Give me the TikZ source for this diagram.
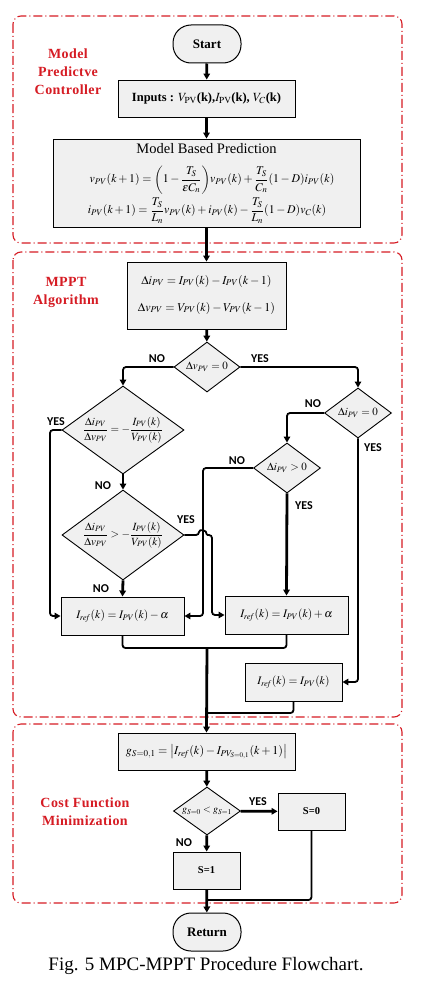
\documentclass[tikz,border=0pt]{standalone}
\usepackage{amsmath}
\usepackage{mathptmx}
\usepackage[no-math]{fontspec}
\setmainfont{Liberation Serif}
\newfontfamily\lblfont{Carlito}
\newfontfamily\redfont{Liberation Serif}[LetterSpace=3]
\usetikzlibrary{shapes.geometric,arrows.meta}
\definecolor{boxred}{RGB}{214,28,36}
\definecolor{boxfill}{RGB}{240,240,240}
\begin{document}
\begin{tikzpicture}[x=1pt,y=-1pt,
 proc/.style={draw,fill=boxfill,line width=0.9pt,inner sep=0pt},
 term/.style={draw,fill=boxfill,line width=1pt,rounded corners=18pt,minimum width=68pt,minimum height=38pt,inner sep=0pt,font=\fontsize{13}{15}\selectfont\bfseries},
 dec/.style={draw,fill=boxfill,diamond,line width=0.9pt,inner sep=0pt},
 region/.style={draw=boxred,line width=1.1pt,dash pattern=on 9pt off 3pt on 1pt off 3pt,rounded corners=8pt},
 regionlbl/.style={text=boxred,font=\redfont\fontsize{14}{18}\selectfont\bfseries,align=center},
 yn/.style={font=\lblfont\fontsize{12}{14}\selectfont\bfseries},
 conn/.style={line width=1.8pt,rounded corners=3pt},
 thk/.style={line width=2.8pt},
 arr/.style={-{Triangle[length=6pt,width=6.5pt]}},
 eq/.style={font=\fontsize{12}{14}\selectfont,inner sep=0pt},
]
\useasboundingbox (0,0) rectangle (428,998);
\fill[white] (0,0) rectangle (428,998);
% regions
\draw[region] (13,16) rectangle (402,243);
\draw[region] (13,252) rectangle (402,717);
\draw[region] (13,724) rectangle (402,903);
\node[regionlbl] (lmpc) at (68,72) {Model\\Predictve\\Controller};
\node[regionlbl] (lmppt) at (66,292) {MPPT\\Algorithm};
\node[regionlbl] (lcost) at (85,812) {Cost Function\\Minimization};
% nodes
\node[term] (start) at (207,44) {Start};
\node[proc,minimum width=177pt,minimum height=37pt,font=\fontsize{12.5}{14}\selectfont] (inputs) at (206.5,98.5)
  {\textbf{Inputs :} $V_{\mathrm{PV}}$\textbf{(k),}$I_{\mathrm{PV}}$\textbf{(k),} $V_{C}$\textbf{(k)}};
\node[proc,minimum width=307pt,minimum height=88pt] (mbp) at (206.5,183) {};
\node[eq,font=\fontsize{14.5}{16}\selectfont] (mbpt) at (206.5,148.5) {Model Based Prediction};
\node[eq,font=\fontsize{11.8}{14}\selectfont] (mbp1) at (212,180) {$v_{PV}(k+1)=\biggl(1-\dfrac{T_S}{\varepsilon C_n}\biggr)v_{PV}(k)+\dfrac{T_S}{C_n}(1-D)i_{PV}(k)$};
\node[eq,font=\fontsize{11.8}{14}\selectfont] (mbp2) at (207,211) {$i_{PV}(k+1)=\dfrac{T_S}{L_n}v_{PV}(k)+i_{PV}(k)-\dfrac{T_S}{L_n}(1-D)v_C(k)$};
\node[proc,minimum width=159pt,minimum height=67pt] (delta) at (206.5,295.5) {};
\node[eq] (dl1) at (206.5,281) {$\Delta i_{PV}=I_{PV}(k)-I_{PV}(k-1)$};
\node[eq] (dl2) at (206.5,308) {$\Delta v_{PV}=V_{PV}(k)-V_{PV}(k-1)$};
\node[dec,minimum width=66pt,minimum height=50pt] (d1) at (207,367) {};
\node[eq,font=\fontsize{11}{13}\selectfont] (d1t) at (207,367) {$\Delta v_{PV}=0$};
\node[dec,minimum width=122pt,minimum height=88pt] (d2) at (123,430) {};
\node[eq,font=\fontsize{11}{13}\selectfont] (d2t) at (123,430) {$\dfrac{\Delta i_{PV}}{\Delta v_{PV}}=-\dfrac{I_{PV}(k)}{V_{PV}(k)}$};
\node[dec,minimum width=67pt,minimum height=50pt] (d3) at (358,413) {};
\node[eq,font=\fontsize{11}{13}\selectfont] (d3t) at (358,413) {$\Delta i_{PV}=0$};
\node[dec,minimum width=67pt,minimum height=50pt] (d4) at (287,468) {};
\node[eq,font=\fontsize{11}{13}\selectfont] (d4t) at (287,468) {$\Delta i_{PV}>0$};
\node[dec,minimum width=122pt,minimum height=90pt] (d5) at (123,535) {};
\node[eq,font=\fontsize{11}{13}\selectfont] (d5t) at (123,535) {$\dfrac{\Delta i_{PV}}{\Delta v_{PV}}>-\dfrac{I_{PV}(k)}{V_{PV}(k)}$};
\node[proc,minimum width=123pt,minimum height=38pt,font=\fontsize{11.5}{13}\selectfont] (b1) at (122.5,616) {$I_{\mathit{ref}}(k)=I_{PV}(k)-\alpha$};
\node[proc,minimum width=123pt,minimum height=38pt,font=\fontsize{11.5}{13}\selectfont] (b2) at (286.5,615) {$I_{\mathit{ref}}(k)=I_{PV}(k)+\alpha$};
\node[proc,minimum width=97pt,minimum height=38pt,font=\fontsize{11.5}{13}\selectfont] (b3) at (293.5,682) {$I_{\mathit{ref}}(k)=I_{PV}(k)$};
\node[proc,minimum width=177pt,minimum height=37pt,font=\fontsize{12}{14}\selectfont] (g) at (206.5,751.5) {$g_{S=0,1}=\left|I_{\mathit{ref}}(k)-I_{PV_{S=0,1}}(k+1)\right|$};
\node[dec,minimum width=67pt,minimum height=48pt] (d6) at (207,811) {};
\node[eq,font=\fontsize{10}{12}\selectfont] (d6t) at (207,811) {$g_{S=0}<g_{S=1}$};
\node[proc,minimum width=67pt,minimum height=37pt,font=\fontsize{10.5}{12}\selectfont\bfseries] (s0) at (311.5,811.5) {S=0};
\node[proc,minimum width=67pt,minimum height=37pt,font=\fontsize{10.5}{12}\selectfont\bfseries] (s1) at (206.5,870.5) {S=1};
\node[term] (ret) at (207,932) {Return};
\node[font=\fontsize{19}{21}\selectfont] (cap) at (206,966) {Fig. 5 MPC-MPPT Procedure Flowchart.};
% coordinates
\coordinate (c1) at (203,540);
\coordinate (c2) at (50,520);
\coordinate (c3a) at (199,535);
\coordinate (c3b) at (207,535);
\coordinate (c4) at (212,580);
\coordinate (c5) at (207,648);
\coordinate (c6) at (207,713);
\coordinate (c7) at (207,900);
% connectors
\draw[thk,arr] (start) -- (inputs);
\draw[thk,arr] (inputs) -- (mbp);
\draw[thk,arr] (mbp) -- (delta);
\draw[thk,arr] (delta) -- (d1);
\draw[conn,arr] (d1.west) -| (d2.north);
\draw[conn,arr] (d1.east) -| (d3.north);
\draw[conn,arr] (d3.west) -| (d4.north);
\draw[conn,arr] (d3.south) |- (b3.east);
\draw[conn,arr] (d4.west) -| (c1) |- (b1.east);
\draw[thk,arr] (d4.south) -- (b2.north);
\draw[thk,arr] (d2.south) -- (d5.north);
\draw[conn,arr] (d2.west) -| (c2) |- (b1.west);
\draw[conn] (d5.east) -- (c3a) .. controls +(0,-6) and +(0,-6) .. (c3b);
\draw[conn,arr] (c3b) -| (c4) |- (b2.west);
\draw[thk,arr] (d5.south) -- (b1.north);
\draw[conn] (b1.south) |- (c5) -| (b2.south);
\draw[conn] (b3.south) |- (c6);
\draw[thk,arr] (c5) -- (g.north);
\draw[thk,arr] (g) -- (d6);
\draw[thk,arr] (d6) -- (s0);
\draw[thk,arr] (d6) -- (s1);
\draw[conn] (s0.south) |- (c7);
\draw[thk,arr] (s1) -- (ret);
% labels
\node[yn] (n1) at (157,359) {NO};
\node[yn] (y1) at (260,359) {YES};
\node[yn] (y2) at (56,422) {YES};
\node[yn] (n2) at (103,486) {NO};
\node[yn] (n3) at (313,404) {NO};
\node[yn] (y3) at (373,448) {YES};
\node[yn] (n4) at (237,461) {NO};
\node[yn] (y4) at (304,506) {YES};
\node[yn] (y5) at (186,520) {YES};
\node[yn] (n5) at (101,589) {NO};
\node[yn] (y6) at (258,802) {YES};
\node[yn] (n6) at (184,843) {NO};
\end{tikzpicture}
\end{document}
